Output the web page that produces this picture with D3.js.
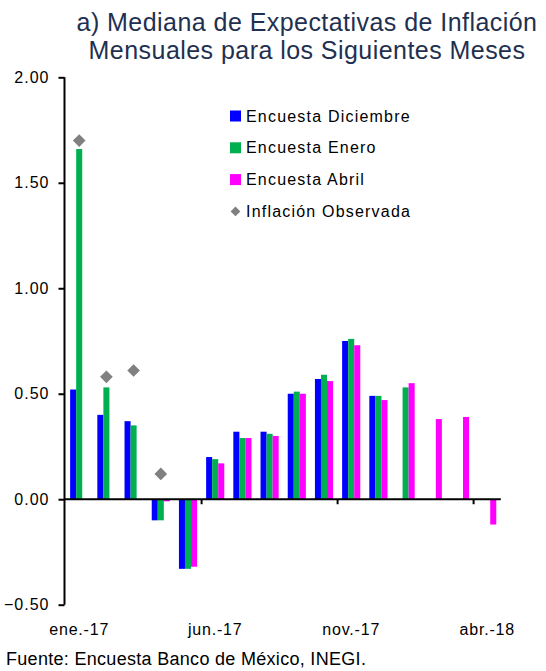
<!DOCTYPE html>
<html>
<head>
<meta charset="utf-8">
<script src="https://cdn.jsdelivr.net/npm/d3@7"></script>
<style>
  html, body { margin: 0; padding: 0; background: #fff; }
  svg { display: block; font-family: "Liberation Sans", Arial, Helvetica, sans-serif; }
</style>
</head>
<body>
<svg id="chart" width="546" height="671"></svg>
<script>
const months = ["ene.-17","feb.-17","mar.-17","abr.-17","may.-17","jun.-17","jul.-17","ago.-17","sep.-17","oct.-17","nov.-17","dic.-17","ene.-18","feb.-18","mar.-18","abr.-18"];
const encuestaDiciembre = [0.52, 0.40, 0.37, -0.10, -0.33, 0.20, 0.32, 0.32, 0.50, 0.57, 0.75, 0.49, null, null, null, null];
const encuestaEnero     = [1.66, 0.53, 0.35, -0.10, -0.33, 0.19, 0.29, 0.31, 0.51, 0.59, 0.76, 0.49, 0.53, null, null, null];
const encuestaAbril     = [null, null, null, -0.01, -0.32, 0.17, 0.29, 0.30, 0.50, 0.56, 0.73, 0.47, 0.55, 0.38, 0.39, -0.12];
const inflacionObservada = [1.70, 0.58, 0.61, 0.12, null, null, null, null, null, null, null, null, null, null, null, null];
const yTicks = [-0.5, 0, 0.5, 1.0, 1.5, 2.0];
const xLabelMonths = ["ene.-17", "jun.-17", "nov.-17", "abr.-18"];
const seriesNames = ["Encuesta Diciembre", "Encuesta Enero", "Encuesta Abril"];
const seriesColors = ["#0000FF", "#00B050", "#FF00FF"];
const obsName = "Inflación Observada";
const obsColor = "#808080";
const titleLines = ["a) Mediana de Expectativas de Inflación", "Mensuales para los Siguientes Meses"];
const footer = "Fuente: Encuesta Banco de México, INEGI.";

const seriesData = [encuestaDiciembre, encuestaEnero, encuestaAbril];

const svg = d3.select("#chart");

const y = d3.scaleLinear().domain([-0.5, 2.0]).range([604.7, 77.3]);
const x0 = d3.scaleBand().domain(months).range([65.6, 500.8]).paddingInner(1/3).paddingOuter(1/6);
const x1 = d3.scaleBand().domain(seriesNames).range([0, x0.bandwidth()]);
const step = x0.step();

// Title
svg.append("g").selectAll("text").data(titleLines).join("text")
  .attr("x", 307).attr("y", (d, i) => 31 + i * 28)
  .attr("text-anchor", "middle")
  .attr("font-size", 25).attr("letter-spacing", 0.45)
  .attr("fill", "#1F3050")
  .text(d => d);

// Bars
const barsG = svg.append("g");
seriesData.forEach((arr, si) => {
  barsG.append("g").selectAll("rect")
    .data(months.map((m, i) => ({ m, v: arr[i] })).filter(d => d.v !== null))
    .join("rect")
    .attr("x", d => x0(d.m) + x1(seriesNames[si]))
    .attr("width", x1.bandwidth())
    .attr("y", d => y(Math.max(0, d.v)))
    .attr("height", d => Math.abs(y(d.v) - y(0)))
    .attr("fill", seriesColors[si]);
});

// Observed inflation diamonds
svg.append("g").selectAll("path")
  .data(months.map((m, i) => ({ m, v: inflacionObservada[i] })).filter(d => d.v !== null))
  .join("path")
  .attr("d", d3.symbol(d3.symbolSquare, 80)())
  .attr("transform", d => `translate(${x0(d.m) + x0.bandwidth() / 2},${y(d.v)}) rotate(45)`)
  .attr("fill", obsColor);

// Y axis
const yAxis = d3.axisLeft(y).tickValues(yTicks).tickFormat(d3.format(".2f")).tickSize(6).tickPadding(9);
const yg = svg.append("g").attr("transform", "translate(64.5,0)").call(yAxis);
yg.select(".domain").attr("stroke", "#000").attr("stroke-width", 2).attr("d", `M0,${y(2)}V${y(-0.5)}`);
yg.selectAll(".tick line").attr("stroke", "#000").attr("stroke-width", 2);
yg.selectAll(".tick text").attr("font-size", 16).attr("letter-spacing", 1).attr("fill", "#000")
  .attr("font-family", "'Liberation Sans', Arial, sans-serif");

// X axis (zero line)
const xg = svg.append("g");
xg.append("line")
  .attr("x1", 64.5).attr("x2", x0.range()[1])
  .attr("y1", y(0)).attr("y2", y(0))
  .attr("stroke", "#000").attr("stroke-width", 2);
xg.selectAll("line.tk")
  .data(xLabelMonths.slice(1))
  .join("line").attr("class", "tk")
  .attr("x1", d => x0(d) + x0.bandwidth() / 2 - step / 2)
  .attr("x2", d => x0(d) + x0.bandwidth() / 2 - step / 2)
  .attr("y1", y(0)).attr("y2", y(0) + 5)
  .attr("stroke", "#000").attr("stroke-width", 2);

// X labels
const xAxis = d3.axisBottom(x0).tickValues(xLabelMonths).tickSize(0).tickPadding(0);
const xl = svg.append("g").attr("transform", "translate(0,624)").call(xAxis);
xl.select(".domain").remove();
xl.selectAll(".tick text").attr("font-size", 16).attr("letter-spacing", 0.8).attr("fill", "#000")
  .attr("dy", "0.71em")
  .attr("font-family", "'Liberation Sans', Arial, sans-serif");

// Legend
const legendItems = seriesNames.map((n, i) => ({ name: n, color: seriesColors[i], type: "rect" }))
  .concat([{ name: obsName, color: obsColor, type: "diamond" }]);
const lg = svg.append("g").selectAll("g").data(legendItems).join("g")
  .attr("transform", (d, i) => `translate(230,${116 + i * 31.8})`);
lg.filter(d => d.type === "rect").append("rect")
  .attr("x", 0).attr("y", -5.5).attr("width", 11).attr("height", 11)
  .attr("fill", d => d.color);
lg.filter(d => d.type === "diamond").append("path")
  .attr("d", d3.symbol(d3.symbolSquare, 48)())
  .attr("transform", "translate(5.5,0) rotate(45)")
  .attr("fill", d => d.color);
lg.append("text")
  .attr("x", 16).attr("y", 0).attr("dy", "0.35em")
  .attr("font-size", 16).attr("letter-spacing", 1.2).attr("fill", "#000")
  .text(d => d.name);

// Footer
svg.append("text")
  .attr("x", 6).attr("y", 665)
  .attr("font-size", 18).attr("letter-spacing", 0.3).attr("fill", "#000")
  .text(footer);
</script>
</body>
</html>
